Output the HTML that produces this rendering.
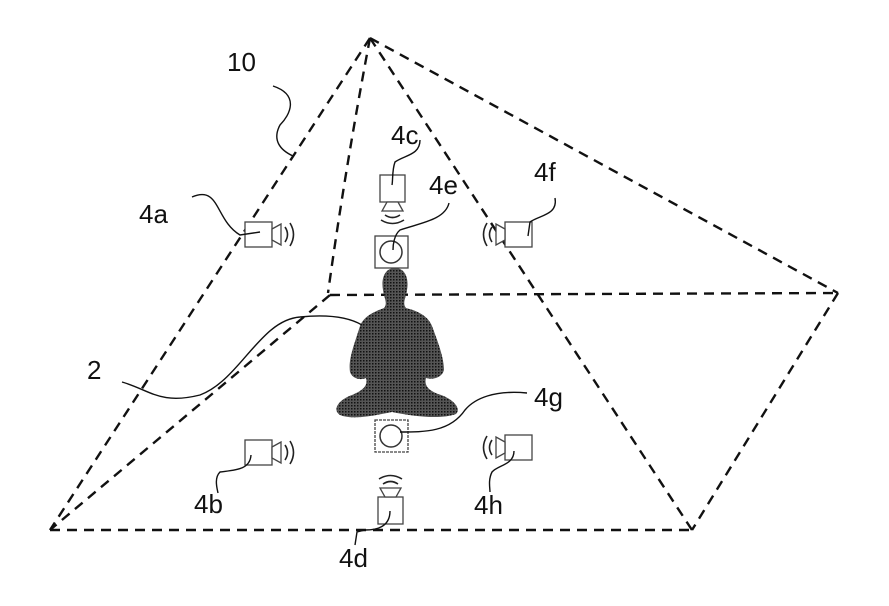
<!DOCTYPE html>
<html><head><meta charset="utf-8"><style>
html,body{margin:0;padding:0;background:#fff;}
svg{display:block;}
text{font-family:"Liberation Sans",sans-serif;font-size:26px;fill:#111;}
</style></head><body>
<svg width="889" height="606" viewBox="0 0 889 606">
<defs>
<pattern id="dots" width="3" height="3" patternUnits="userSpaceOnUse">
<rect width="3" height="3" fill="#555"/><rect width="1.5" height="1.5" fill="#111"/>
</pattern>
<g id="spk">
<rect x="0" y="0" width="27" height="25" fill="#fff" stroke="#444" stroke-width="1.3"/>
<path d="M27 7 L36 2 L36 23 L27 18 Z" fill="#fff" stroke="#444" stroke-width="1.3"/>
<path d="M40 5 Q45 12.5 40 20" fill="none" stroke="#222" stroke-width="1.6"/>
<path d="M45 1 Q52 12.5 45 24" fill="none" stroke="#222" stroke-width="1.6"/>
</g>
</defs>
<g fill="none" stroke="#111" stroke-width="2.4" stroke-dasharray="10,7">
<line x1="370" y1="38" x2="50" y2="530"/>
<path d="M370 38 Q345 170 328 293"/>
<line x1="370" y1="38" x2="838" y2="293"/>
<line x1="370" y1="38" x2="692" y2="530"/>
<line x1="330" y1="295" x2="838" y2="293"/>
<line x1="330" y1="295" x2="50" y2="530"/>
<line x1="838" y1="293" x2="692" y2="530"/>
<line x1="50" y1="530" x2="692" y2="530"/>
</g>
<path fill="url(#dots)" d="M395 268 C384 268 381 280 383 290 C384 298 388 303 384 308 C374 312 364 316 360 326 C354 345 348 360 350 372 C353 380 362 380 366 378 C368 385 364 390 352 395 C338 400 332 410 340 415 C352 420 372 416 392 412 C412 416 440 420 456 414 C462 408 452 398 438 394 C428 390 424 385 426 378 C432 380 442 378 444 370 C444 358 438 342 432 326 C428 316 418 311 406 308 C402 303 406 298 407 290 C409 280 406 268 395 268 Z"/>
<g><use href="#spk" x="245" y="222"/></g>
<g><use href="#spk" x="245" y="440"/></g>
<g><use href="#spk" transform="translate(532,222) scale(-1,1)"/></g>
<g><use href="#spk" transform="translate(532,435) scale(-1,1)"/></g>
<g><use href="#spk" transform="translate(405,175) rotate(90)"/></g>
<g><use href="#spk" transform="translate(378,524) rotate(-90)"/></g>
<g><rect x="375" y="236" width="33" height="32" fill="#fff" stroke="#444" stroke-width="1.3"/><circle cx="391" cy="252" r="11" fill="none" stroke="#333" stroke-width="1.5"/></g>
<g><rect x="375" y="420" width="33" height="32" fill="#fff" stroke="#444" stroke-width="1.3" stroke-dasharray="3,1"/><circle cx="391" cy="436" r="11" fill="none" stroke="#333" stroke-width="1.5"/></g>
<g fill="none" stroke="#111" stroke-width="1.4">
<path d="M273 86 C300 95 290 115 280 125 C272 140 280 150 293 156"/>
<path d="M192 197 C220 185 215 220 240 235 L260 232"/>
<path d="M420 140 C420 155 405 155 395 162 C392 170 393 180 392 185"/>
<path d="M449 203 C445 220 420 223 400 230 C394 235 393 245 393 250"/>
<path d="M555 198 C558 215 540 215 530 222 L528 236"/>
<path d="M122 382 C150 390 160 405 200 395 C240 380 260 320 300 317 C330 314 350 318 362 325"/>
<path d="M527 393 C495 390 475 398 465 410 C450 432 425 432 400 432"/>
<path d="M251 455 C250 470 235 470 220 472 C214 478 217 488 218 493"/>
<path d="M514 451 C514 465 498 465 492 472 C488 480 490 488 490 492"/>
<path d="M390 511 C390 525 380 530 365 530 L357 532 L355 545"/>
</g>
<text x="227" y="71">10</text>
<text x="139" y="223">4a</text>
<text x="391" y="144">4c</text>
<text x="429" y="194">4e</text>
<text x="534" y="181">4f</text>
<text x="87" y="379">2</text>
<text x="534" y="406">4g</text>
<text x="194" y="513">4b</text>
<text x="474" y="514">4h</text>
<text x="339" y="567">4d</text>
</svg>
</body></html>
